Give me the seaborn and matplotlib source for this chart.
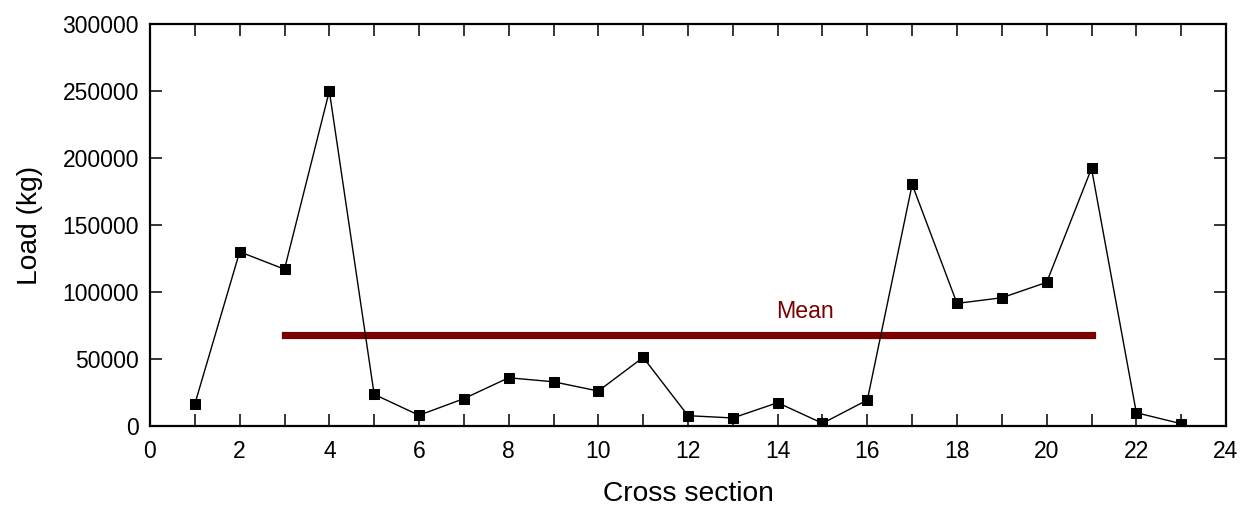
import numpy as np
import pandas as pd
import matplotlib
matplotlib.use("Agg")
import matplotlib.pyplot as plt
import seaborn as sns
from matplotlib.ticker import MultipleLocator

# Load per cross section
sections = list(range(1, 24))
loads = [16400, 130000, 117000, 250000, 23600, 8000, 20400, 36000, 33000,
         26100, 51200, 7700, 6000, 17400, 2000, 19400, 180300, 91500, 95700,
         107200, 192200, 9900, 1700]

# Mean reference line
mean_value = 67700
mean_span = [3, 21]
mean_label = "Mean"

x_label = "Cross section"
y_label = "Load (kg)"

sns.set_style("ticks")
plt.rcParams["font.family"] = ["Liberation Sans", "DejaVu Sans"]
plt.rcParams["text.color"] = "black"
plt.rcParams["axes.labelcolor"] = "black"

df = pd.DataFrame({"section": sections, "load": loads})

fig = plt.figure(figsize=(12.49, 5.08), dpi=100)
ax = fig.add_axes([150 / 1249, 1 - 426 / 508, (1226 - 150) / 1249, (426 - 24) / 508])

sns.lineplot(data=df, x="section", y="load", ax=ax, color="black",
             linewidth=1.0, marker="s", markersize=7.6,
             markeredgecolor="black", markerfacecolor="black", zorder=3)

ax.plot(mean_span, [mean_value, mean_value], color="#7a0000", linewidth=5.2,
        solid_capstyle="projecting", zorder=2)
ax.text(14.6, mean_value + 18000, mean_label, color="#7a0000",
        fontsize=16.7, ha="center", va="center")

ax.set_xlim(0, 24)
ax.set_ylim(0, 300000)
ax.xaxis.set_major_locator(MultipleLocator(2))
ax.xaxis.set_minor_locator(MultipleLocator(1))
ax.yaxis.set_major_locator(MultipleLocator(50000))

ax.tick_params(axis="both", which="both", direction="in", top=True, right=True,
               length=8.6, width=1.1, colors="black", labelsize=16.5, pad=8)
ax.tick_params(axis="x", which="major", pad=10)

for s in ax.spines.values():
    s.set_visible(True)
    s.set_linewidth(1.6)
    s.set_color("black")

ax.set_xlabel(x_label, fontsize=20.3, labelpad=13, color="black")
ax.set_ylabel(y_label, fontsize=20.3, labelpad=14, color="black")

fig.savefig("out.png", dpi=100)
